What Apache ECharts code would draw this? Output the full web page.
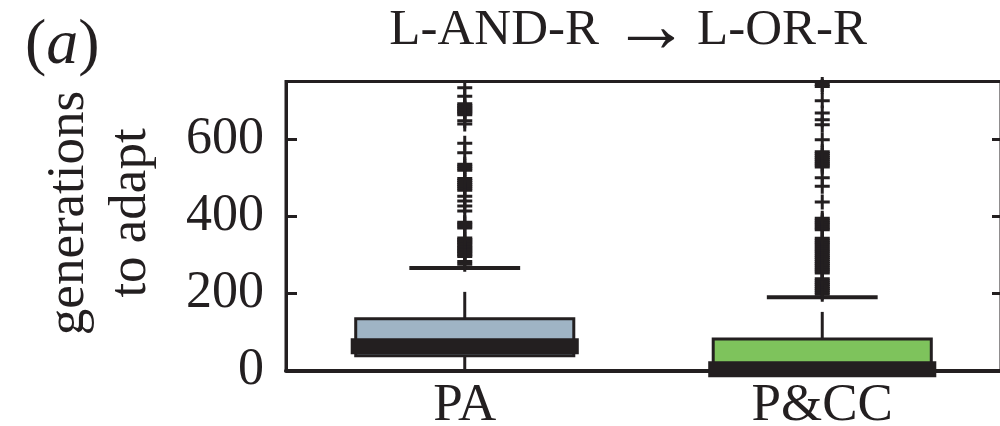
<!DOCTYPE html>
<html>
<head>
<meta charset="utf-8">
<script src="https://cdn.jsdelivr.net/npm/echarts@6/dist/echarts.min.js"></script>
<style>
  html, body { margin: 0; padding: 0; background: #fff; }
  #chart { width: 1000px; height: 426px; }
</style>
</head>
<body>
<div id="chart"></div>
<script>
// box summary per group: lower whisker, Q1, median, Q3, upper whisker
const categories = ['PA', 'P&CC']
const lowerWhisker = [0, 0]
const q1 = [38, 0]
const median = [63, 3]
const q3 = [134, 82]
const upperWhisker = [266, 190]
const boxColors = ['#9fb4c5', '#7ec35c']

// outliers (dense runs show up as solid blocks)
const paOutliers = [
  734, 712,
  664, 668, 672, 676, 680, 684, 688, 692,
  648, 640,
  590, 565,
  520, 525, 530, 535,
  468, 473, 478, 483, 488, 493, 498,
  452, 440, 427, 414,
  370, 375, 380, 385,
  296, 300, 304, 308, 312, 316, 320, 324, 328, 332, 336, 340, 344,
  283, 276
]
const pccOutliers = [
  742, 737,
  700, 668, 651, 638, 599,
  528, 533, 538, 543, 548, 553, 558, 563, 568,
  500, 478, 437,
  365, 370, 375, 380, 385, 390, 395,
  198, 203, 208, 213, 218, 223, 228, 233, 238, 253, 258, 263, 268, 273,
  278, 283, 288, 293, 298, 303, 308, 313, 318, 323, 328, 333, 338, 343
]
const yTicks = [0, 200, 400, 600]

const ink = '#231f20'
const serif = "'Liberation Serif', serif"
const plus = 'path://M6,0H9V6H15V9H9V15H6V9H0V6H6Z'

const chart = echarts.init(document.getElementById('chart'), null, { renderer: 'canvas' })

const boxData = categories.map((c, i) => [i, lowerWhisker[i], q1[i], median[i], q3[i], upperWhisker[i]])
const outlierData = []
paOutliers.forEach(v => outlierData.push([0, v]))
pccOutliers.forEach(v => outlierData.push([1, v]))

function renderBox (params, api) {
  const x = api.value(0)
  const i = params.dataIndex
  const pLow = api.coord([x, api.value(1)])
  const pQ1 = api.coord([x, api.value(2)])
  const pMed = api.coord([x, api.value(3)])
  const pQ3 = api.coord([x, api.value(4)])
  const pHigh = api.coord([x, api.value(5)])
  const band = api.size([1, 0])[0]
  const boxW = band * 0.61
  const capW = band * 0.31
  const cx = pQ1[0]
  return {
    type: 'group',
    children: [
      {
        type: 'line',
        shape: { x1: cx, y1: pQ1[1], x2: cx, y2: pLow[1] },
        style: { stroke: ink, lineWidth: 3 }
      },
      {
        type: 'line',
        shape: { x1: cx, y1: pQ3[1], x2: cx, y2: pHigh[1] },
        style: { stroke: ink, lineWidth: 3, lineDash: [27, 400] }
      },
      {
        type: 'line',
        shape: { x1: cx - capW / 2, y1: pHigh[1], x2: cx + capW / 2, y2: pHigh[1] },
        style: { stroke: ink, lineWidth: 4 }
      },
      {
        type: 'rect',
        shape: { x: cx - boxW / 2, y: pQ3[1], width: boxW, height: pQ1[1] - pQ3[1] },
        style: { fill: boxColors[i], stroke: ink, lineWidth: 3 }
      },
      {
        type: 'rect',
        shape: { x: cx - boxW / 2 - 5, y: pMed[1] - 8, width: boxW + 10, height: 16 },
        style: { fill: ink }
      }
    ]
  }
}

const titleFont = { fontFamily: serif, fontSize: 51, fontWeight: 'normal', color: ink }

chart.setOption({
  animation: false,
  textStyle: { fontFamily: serif, color: ink },
  title: [
    { text: 'L-AND-R', left: 594, top: 0, textAlign: 'right', textStyle: titleFont },
    {
      text: '\u2192',
      left: 646,
      top: 6,
      textAlign: 'center',
      textStyle: { fontFamily: serif, fontSize: 78, lineHeight: 40, fontWeight: 'normal', color: ink }
    },
    { text: 'L-OR-R', left: 692, top: 0, textAlign: 'left', textStyle: titleFont },
    {
      text: '{p|(}{i|a}{p|)}',
      left: 20,
      top: 9,
      textStyle: {
        rich: {
          p: { fontFamily: serif, fontSize: 64, fontWeight: 'normal', color: ink },
          i: { fontFamily: serif, fontSize: 64, fontWeight: 'normal', fontStyle: 'italic', color: ink }
        }
      }
    }
  ],
  grid: {
    left: 286,
    right: -1,
    top: 81.5,
    bottom: 55.5,
    outerBoundsMode: 'none',
    containLabel: false,
    show: true,
    borderColor: ink,
    borderWidth: 3,
    backgroundColor: 'transparent'
  },
  xAxis: {
    type: 'category',
    data: categories,
    boundaryGap: true,
    axisLine: { lineStyle: { color: ink, width: 4 } },
    axisTick: { show: false },
    axisLabel: { fontFamily: serif, fontSize: 53, color: ink, margin: 9 },
    splitLine: { show: false }
  },
  yAxis: [
    {
      type: 'value',
      min: 0,
      max: 750,
      interval: 200,
      name: 'generations\nto adapt',
      nameLocation: 'middle',
      nameRotate: 90,
      nameGap: 124,
      nameTextStyle: {
        fontFamily: serif, fontSize: 53, lineHeight: 62, color: ink, padding: [0, 0, 0, 26]
      },
      axisLine: { show: true, lineStyle: { color: ink, width: 3 } },
      axisTick: { show: true, inside: true, length: 11, lineStyle: { color: ink, width: 3 } },
      axisLabel: {
        fontFamily: serif, fontSize: 52, color: ink, margin: 22,
        formatter: v => (yTicks.includes(v) ? String(v) : '')
      },
      splitLine: { show: false }
    },
    {
      type: 'value',
      position: 'right',
      min: 0,
      max: 750,
      interval: 200,
      axisLine: { show: false },
      axisTick: { show: true, inside: true, length: 9, lineStyle: { color: ink, width: 3 } },
      axisLabel: { show: false },
      splitLine: { show: false }
    }
  ],
  series: [
    {
      type: 'custom',
      renderItem: renderBox,
      data: boxData,
      z: 3
    },
    {
      type: 'scatter',
      data: outlierData,
      symbol: plus,
      symbolSize: 15,
      itemStyle: { color: ink, opacity: 1 },
      z: 4
    }
  ]
})
</script>
</body>
</html>
